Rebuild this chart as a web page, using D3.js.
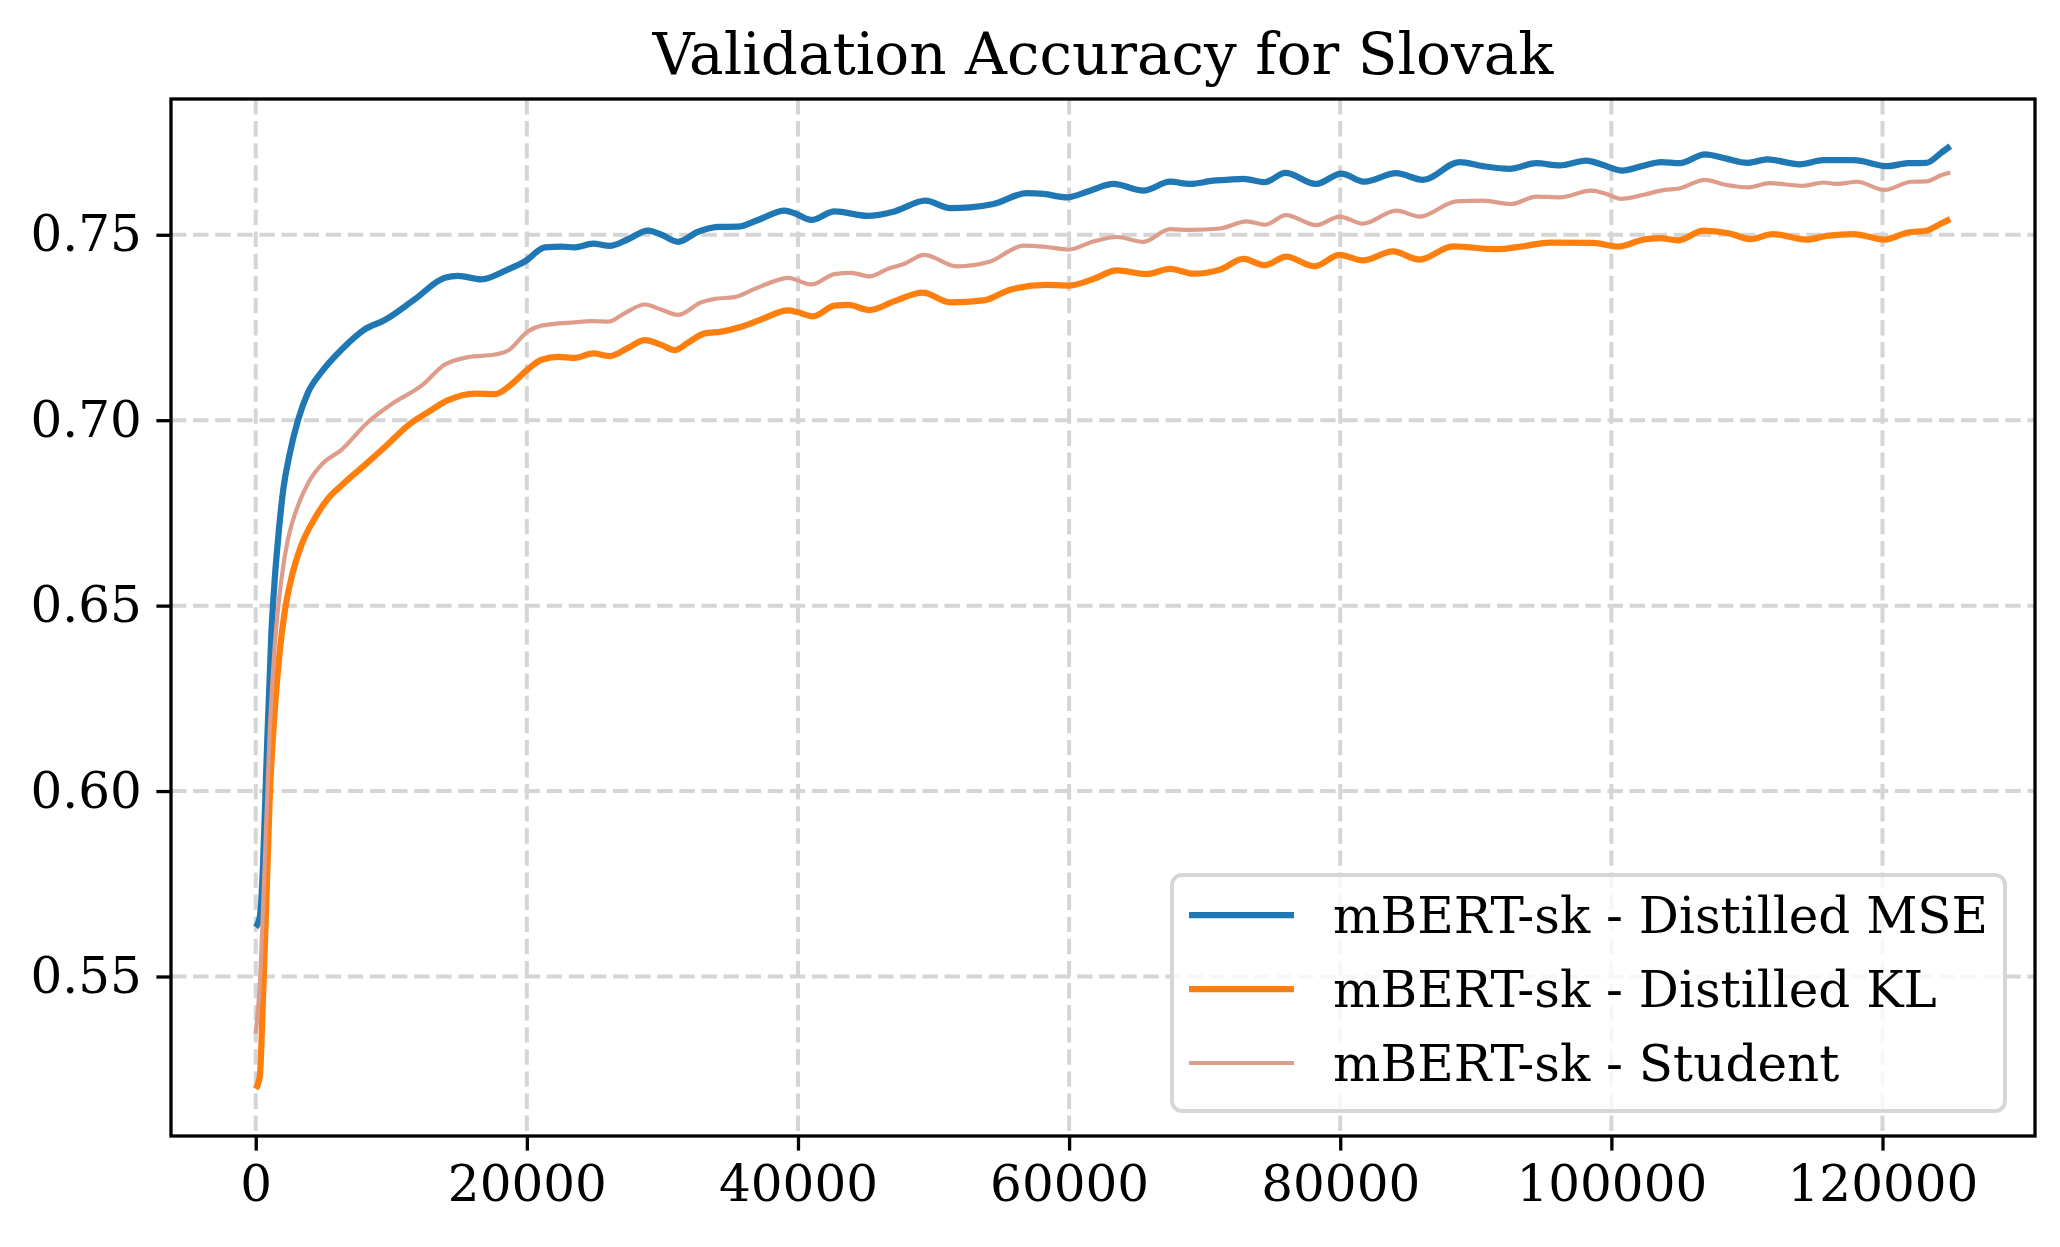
<!DOCTYPE html>
<html>
<head>
<meta charset="utf-8">
<script src="https://cdn.jsdelivr.net/npm/d3@7"></script>
<style>
  body { margin: 0; background: #fff; }
  text { font-family: "DejaVu Serif", serif; }
</style>
</head>
<body>
<div id="chart"></div>
<script>
// data (training step, validation accuracy)
var mseSteps = [0, 300, 540, 790, 1160, 1400, 1650, 2020, 2510, 3120, 3860, 4850, 6320, 8040, 9520, 11730, 13950, 14930, 16650, 18620, 19850, 21330, 22560, 23540, 24890, 26120, 27470, 28940, 29930, 31150, 32630, 34100, 35580, 37050, 39020, 39750, 40980, 42700, 45160, 47120, 49400, 51230, 52700, 54420, 56880, 58110, 59830, 61550, 63270, 65480, 67450, 68920, 70640, 71620, 72850, 74450, 75950, 78230, 80070, 81800, 84130, 86100, 88810, 90530, 92500, 94460, 96190, 98150, 99390, 100800, 102250, 103670, 105040, 106910, 108410, 110030, 111520, 113890, 115640, 117880, 120370, 121870, 123240, 124360, 125000];
var mseAcc = [0.5633, 0.566, 0.580, 0.607, 0.643, 0.657, 0.668, 0.681, 0.691, 0.700, 0.7075, 0.713, 0.719, 0.7245, 0.727, 0.7326, 0.7384, 0.7389, 0.738, 0.7407, 0.7428, 0.7466, 0.7468, 0.7466, 0.7476, 0.7470, 0.7488, 0.7511, 0.7500, 0.7481, 0.7508, 0.7521, 0.7522, 0.754, 0.7565, 0.7558, 0.754, 0.7563, 0.7551, 0.7563, 0.7592, 0.7572, 0.7574, 0.7583, 0.7612, 0.761, 0.7601, 0.7619, 0.7637, 0.7619, 0.7643, 0.7637, 0.7646, 0.7648, 0.7651, 0.7642, 0.7667, 0.7637, 0.7665, 0.7643, 0.7666, 0.7648, 0.7696, 0.7685, 0.7678, 0.7693, 0.7687, 0.770, 0.7688, 0.7673, 0.7685, 0.7696, 0.7693, 0.7717, 0.7706, 0.7694, 0.7703, 0.769, 0.7701, 0.7701, 0.7685, 0.7693, 0.7694, 0.7722, 0.7739];

var klSteps = [0, 300, 540, 790, 1030, 1400, 1770, 2140, 2630, 3370, 4350, 5340, 6320, 8290, 9770, 11240, 12720, 14190, 16160, 17640, 18870, 20100, 21080, 22310, 23540, 24890, 26120, 27470, 28700, 29930, 30910, 31890, 33120, 34350, 35820, 37300, 39260, 40000, 41100, 42700, 43690, 45280, 47120, 49200, 51230, 53690, 55650, 58360, 59950, 61800, 63520, 65730, 67450, 69170, 71130, 72850, 74450, 76000, 78110, 79950, 81670, 83890, 85860, 88310, 91510, 93480, 95450, 98650, 100500, 102250, 103550, 104920, 106790, 108660, 110280, 111900, 114390, 115890, 117880, 120130, 121870, 123240, 124360, 125000];
var klAcc = [0.5197, 0.523, 0.5445, 0.571, 0.598, 0.6215, 0.6376, 0.6484, 0.6574, 0.6663, 0.6735, 0.6789, 0.6824, 0.6887, 0.6936, 0.6986, 0.7022, 0.7054, 0.7072, 0.707, 0.7097, 0.7138, 0.7163, 0.7171, 0.7168, 0.718, 0.7173, 0.7195, 0.7216, 0.7203, 0.7189, 0.7209, 0.7234, 0.7239, 0.7252, 0.7272, 0.7296, 0.7291, 0.728, 0.7309, 0.7311, 0.7297, 0.7321, 0.7344, 0.7318, 0.7323, 0.7352, 0.7365, 0.7363, 0.7381, 0.7404, 0.7394, 0.7408, 0.7395, 0.7406, 0.7435, 0.7418, 0.7441, 0.7415, 0.7446, 0.7431, 0.7455, 0.7433, 0.7469, 0.7461, 0.7469, 0.7479, 0.7478, 0.7468, 0.7486, 0.7491, 0.7485, 0.7511, 0.7504, 0.7488, 0.7502, 0.7487, 0.7497, 0.7502, 0.7487, 0.7506, 0.7511, 0.7531, 0.7542];

var studentSteps = [0, 300, 660, 1030, 1400, 1890, 2380, 3120, 3860, 4850, 6320, 8290, 10010, 12230, 13950, 15670, 17640, 18620, 20100, 21080, 23540, 24770, 26000, 27230, 28700, 29930, 31150, 32870, 33860, 35330, 36800, 38280, 39260, 40980, 42700, 43930, 45280, 46630, 47860, 49300, 51720, 54180, 56640, 58360, 59950, 61800, 63520, 65480, 67450, 68920, 71130, 73100, 74450, 76000, 78230, 79950, 81670, 84130, 85860, 88560, 90530, 92620, 94460, 96190, 98520, 99630, 100700, 102400, 103920, 104920, 106910, 108410, 110150, 111650, 114140, 115640, 116640, 118130, 120130, 122120, 123240, 124360, 125000];
var studentAcc = [0.5346, 0.548, 0.580, 0.616, 0.639, 0.657, 0.668, 0.677, 0.683, 0.688, 0.692, 0.6995, 0.7043, 0.7093, 0.715, 0.717, 0.7177, 0.7188, 0.724, 0.7255, 0.7264, 0.7267, 0.7266, 0.7289, 0.7312, 0.7298, 0.7284, 0.7318, 0.7327, 0.7332, 0.7354, 0.7375, 0.7384, 0.7366, 0.7394, 0.7397, 0.7388, 0.7408, 0.7422, 0.7446, 0.7415, 0.7428, 0.7471, 0.7467, 0.746, 0.7482, 0.7494, 0.7481, 0.7515, 0.7513, 0.7517, 0.7536, 0.7527, 0.7553, 0.7526, 0.7549, 0.753, 0.7565, 0.7549, 0.759, 0.7592, 0.7583, 0.7603, 0.7601, 0.7619, 0.761, 0.7597, 0.7608, 0.7621, 0.7624, 0.7648, 0.7635, 0.7628, 0.7639, 0.7632, 0.7641, 0.7637, 0.7643, 0.7621, 0.7643, 0.7644, 0.7661, 0.7668];

var seriesNames = ["mBERT-sk - Distilled MSE", "mBERT-sk - Distilled KL", "mBERT-sk - Student"];
var seriesColors = ["#1f77b4", "#ff7f0e", "#de9c8b"];
var seriesWidths = [6.25, 6.25, 4.2];
var xTicks = [0, 20000, 40000, 60000, 80000, 100000, 120000];
var yTicks = [0.55, 0.60, 0.65, 0.70, 0.75];
var title = "Validation Accuracy for Slovak";

// set up chart
var svgWidth = 2060;
var svgHeight = 1247;
var margin = { top: 99, right: 25, bottom: 111, left: 171 };
var width = svgWidth - margin.left - margin.right;
var height = svgHeight - margin.top - margin.bottom;

var svg = d3.select("#chart")
    .append("svg")
    .attr("width", svgWidth)
    .attr("height", svgHeight);

var chartGroup = svg.append("g")
    .attr("transform", `translate(${margin.left}, ${margin.top})`);

// zip steps and values for each series
var series = [
    d3.zip(mseSteps, mseAcc),
    d3.zip(klSteps, klAcc),
    d3.zip(studentSteps, studentAcc)
];

// matplotlib style 5% padding on both axes
var allX = mseSteps.concat(klSteps, studentSteps);
var allY = mseAcc.concat(klAcc, studentAcc);
var xExt = d3.extent(allX), yExt = d3.extent(allY);
var xPad = (xExt[1] - xExt[0]) * 0.05, yPad = (yExt[1] - yExt[0]) * 0.05;

var xScale = d3.scaleLinear()
    .domain([xExt[0] - xPad, xExt[1] + xPad])
    .range([0, width]);

var yScale = d3.scaleLinear()
    .domain([yExt[0] - yPad, yExt[1] + yPad])
    .range([height, 0]);

// grid lines
chartGroup.append("g")
    .selectAll("line")
    .data(xTicks)
    .enter()
    .append("line")
    .attr("x1", d => xScale(d))
    .attr("x2", d => xScale(d))
    .attr("y1", 0)
    .attr("y2", height)
    .attr("stroke", "#d5d5d5")
    .attr("stroke-width", 4)
    .attr("stroke-dasharray", "15.4,6.7");

chartGroup.append("g")
    .selectAll("line")
    .data(yTicks)
    .enter()
    .append("line")
    .attr("x1", 0)
    .attr("x2", width)
    .attr("y1", d => yScale(d))
    .attr("y2", d => yScale(d))
    .attr("stroke", "#d5d5d5")
    .attr("stroke-width", 4)
    .attr("stroke-dasharray", "15.4,6.7");

// lines
var line = d3.line()
    .x(d => xScale(d[0]))
    .y(d => yScale(d[1]))
    .curve(d3.curveMonotoneX);

chartGroup.selectAll(".series")
    .data(series)
    .enter()
    .append("path")
    .attr("class", "series")
    .attr("d", line)
    .attr("fill", "none")
    .attr("stroke", (d, i) => seriesColors[i])
    .attr("stroke-width", (d, i) => seriesWidths[i])
    .attr("stroke-linejoin", "round");

// axes
var xAxis = d3.axisBottom(xScale)
    .tickValues(xTicks)
    .tickFormat(d3.format("d"))
    .tickSize(14.6)
    .tickPadding(14.6)
    .tickSizeOuter(0);

var yAxis = d3.axisLeft(yScale)
    .tickValues(yTicks)
    .tickFormat(d3.format(".2f"))
    .tickSize(14.6)
    .tickPadding(14.6)
    .tickSizeOuter(0);

var xg = chartGroup.append("g")
    .attr("transform", `translate(0, ${height})`)
    .call(xAxis);

var yg = chartGroup.append("g")
    .call(yAxis);

[xg, yg].forEach(function(g) {
    g.select(".domain").remove();
    g.selectAll(".tick line").attr("stroke", "#000").attr("stroke-width", 3.3);
    g.selectAll(".tick text")
        .attr("fill", "#000")
        .style("font-family", "'DejaVu Serif', serif")
        .style("font-size", "50px");
});

// frame
chartGroup.append("rect")
    .attr("width", width)
    .attr("height", height)
    .attr("fill", "none")
    .attr("stroke", "#000")
    .attr("stroke-width", 3.3);

// title
svg.append("text")
    .attr("x", margin.left + width / 2)
    .attr("y", 74)
    .attr("text-anchor", "middle")
    .style("font-size", "58px")
    .text(title);

// legend
var legW = 833, legH = 236;
var legendGroup = chartGroup.append("g")
    .attr("transform", `translate(${width - 30 - legW}, ${height - 25 - legH})`);

legendGroup.append("rect")
    .attr("width", legW)
    .attr("height", legH)
    .attr("rx", 10)
    .attr("fill", "#fff")
    .attr("fill-opacity", 0.8)
    .attr("stroke", "#d6d6d6")
    .attr("stroke-width", 4);

var legendItems = legendGroup.selectAll(".item")
    .data(seriesNames)
    .enter()
    .append("g")
    .attr("class", "item")
    .attr("transform", (d, i) => `translate(0, ${40 + i * 74})`);

legendItems.append("line")
    .attr("x1", 17)
    .attr("x2", 122)
    .attr("stroke", (d, i) => seriesColors[i])
    .attr("stroke-width", (d, i) => seriesWidths[i]);

legendItems.append("text")
    .attr("x", 161)
    .attr("y", 18)
    .style("font-size", "50px")
    .text(d => d);
</script>
</body>
</html>
